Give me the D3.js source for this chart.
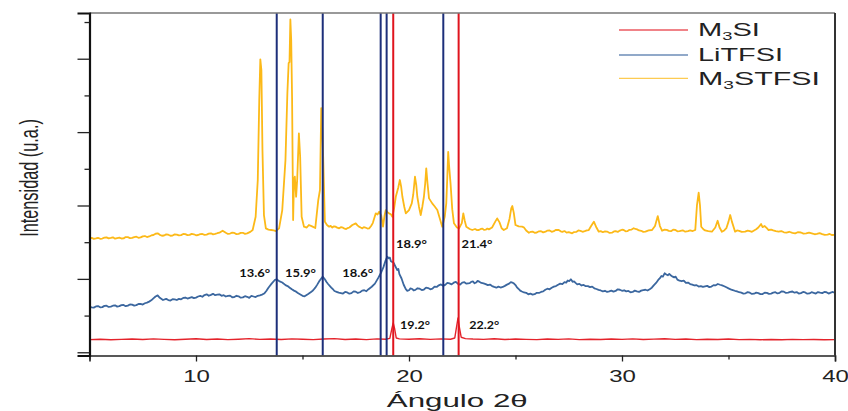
<!DOCTYPE html>
<html>
<head>
<meta charset="utf-8">
<script src="https://cdn.jsdelivr.net/npm/d3@7"></script>
<style>
  body { margin: 0; background: #fff; }
  svg { display: block; }
</style>
</head>
<body>
<div id="chart"></div>
<script>
// XRD patterns, [2theta, intensity a.u.]
var m3si = [[5.0,172],[5.5,178],[6.0,170],[6.5,176],[7.0,180],[7.5,174],[8.0,182],[8.5,176],[9.0,170],[9.5,178],
  [10.0,184],[10.5,175],[11.0,180],[11.5,172],[12.0,178],[12.5,186],[13.0,176],[13.5,181],[14.0,174],[14.5,183],
  [15.0,177],[15.5,172],[16.0,180],[16.5,186],[17.0,175],[17.5,180],[18.0,172],[18.5,182],[18.9,178],[19.1,190],
  [19.2,330],[19.26,399],[19.32,330],[19.4,195],[19.55,182],[20.0,178],[20.5,185],[21.0,176],[21.5,183],[21.95,178],
  [22.15,195],[22.24,360],[22.3,467],[22.36,350],[22.45,205],[22.65,186],[23.0,180],[23.5,176],[24.0,184],[24.5,174],
  [25.0,180],[25.5,176],[26.0,172],[26.5,180],[27.0,176],[27.5,182],[28.0,172],[28.5,178],[29.0,174],[29.5,180],
  [30.0,176],[30.5,182],[31.0,174],[31.5,179],[32.0,185],[32.5,176],[33.0,180],[33.5,172],[34.0,178],[34.5,174],
  [35.0,180],[35.5,172],[36.0,176],[36.5,170],[37.0,175],[37.5,171],[38.0,176],[38.5,172],[39.0,174],[39.5,170],[40.0,173]];

var litfsi = [[5.0,621],[5.1,612],[5.2,608],[5.3,624],[5.4,630],[5.5,612],[5.6,615],[5.7,632],[5.8,635],[5.9,618],[6.0,622],
  [6.1,634],[6.2,640],[6.3,622],[6.4,628],[6.5,642],[6.6,645],[6.7,628],[6.8,636],[6.9,652],[7.0,650],[7.1,636],[7.2,642],
  [7.3,658],[7.4,660],[7.5,650],[7.6,668],[7.7,676],[7.8,690],[7.9,708],[8.0,735],[8.1,760],[8.2,775],[8.3,742],[8.45,712],
  [8.6,728],[8.7,712],[8.8,705],[8.9,724],[9.0,722],[9.1,712],[9.2,728],[9.3,722],[9.4,740],[9.5,746],[9.6,732],[9.7,742],[9.8,752],
  [9.9,738],[10.0,745],[10.1,760],[10.2,768],[10.3,756],[10.4,780],[10.5,790],[10.6,770],[10.7,782],[10.8,796],[10.9,778],
  [11.0,784],[11.1,790],[11.2,770],[11.3,778],[11.4,760],[11.5,768],[11.6,772],[11.7,750],[11.8,752],[11.9,770],[12.0,762],
  [12.1,744],[12.2,748],[12.3,764],[12.4,756],[12.5,742],[12.6,768],[12.7,760],[12.8,752],[12.9,770],[13.0,776],[13.1,786],
  [13.2,800],[13.3,835],[13.4,880],[13.55,935],[13.7,985],[13.8,994],[13.9,970],[14.05,950],[14.12,935],
  [14.2,915],[14.3,902],[14.4,880],[14.5,858],[14.6,840],[14.7,826],[14.8,805],[14.9,788],[15.0,770],[15.1,762],[15.25,790],
  [15.4,820],[15.5,845],[15.6,880],[15.7,925],[15.8,975],
  [15.95,1030],[16.05,995],[16.12,960],[16.2,930],[16.35,880],[16.42,862],[16.5,835],[16.6,824],[16.7,812],[16.8,806],[16.9,800],
  [17.0,822],[17.1,815],[17.2,798],[17.3,806],[17.4,830],[17.5,826],[17.6,808],[17.7,818],[17.8,840],[17.9,845],[18.0,832],
  [18.1,860],[18.25,893],[18.4,935],[18.55,1010],[18.7,1090],[18.8,1160],[18.9,1250],[18.98,1302],
  [19.05,1280],[19.1,1290],[19.15,1240],[19.25,1225],[19.3,1210],[19.35,1175],[19.45,1120],[19.5,1135],[19.55,1065],
  [19.65,1005],[19.75,920],[19.85,860],[19.92,838],[20.0,845],
  [20.07,870],[20.15,862],[20.22,842],[20.3,850],[20.4,872],[20.5,866],[20.6,848],[20.7,855],[20.8,880],[20.9,875],[21.0,858],
  [21.1,866],[21.2,895],[21.3,890],[21.4,912],[21.5,925],[21.6,905],[21.7,918],[21.8,945],[21.9,938],[22.0,925],
  [22.1,948],[22.2,960],[22.3,932],[22.4,922],[22.5,950],[22.6,955],[22.7,935],[22.85,942],[22.92,960],[23.0,965],
  [23.08,940],[23.15,950],[23.22,972],[23.3,962],[23.4,945],[23.5,938],[23.6,928],[23.7,915],[23.8,922],
  [23.9,902],[24.0,890],[24.1,880],[24.2,895],[24.3,882],[24.4,890],[24.5,905],[24.6,922],[24.7,935],[24.78,955],[24.85,948],
  [24.92,940],[25.0,915],[25.08,880],[25.15,862],[25.22,840],[25.3,828],[25.4,815],[25.5,810],[25.6,790],
  [25.7,800],[25.8,785],[25.9,792],[26.0,810],[26.1,808],[26.2,822],[26.3,830],[26.4,852],[26.5,866],[26.6,858],[26.7,880],
  [26.8,895],[26.9,902],[27.0,920],[27.1,935],[27.2,928],[27.3,955],[27.38,948],[27.45,978],[27.52,970],
  [27.6,994],[27.68,960],[27.75,965],[27.82,945],[27.9,925],[28.0,932],[28.1,910],[28.2,918],[28.3,900],[28.4,902],[28.5,888],
  [28.6,895],[28.7,872],[28.8,862],[28.9,850],[29.0,842],[29.1,830],[29.2,838],[29.3,822],[29.4,830],
  [29.5,840],[29.6,826],[29.7,836],[29.8,858],[29.9,852],[30.0,838],[30.1,845],[30.2,830],[30.3,836],[30.4,818],[30.5,822],
  [30.6,840],[30.7,830],[30.8,822],[30.9,840],[31.0,848],[31.1,852],[31.2,842],[31.3,860],[31.4,880],
  [31.5,915],[31.6,945],[31.7,985],[31.78,1010],[31.85,1040],[31.92,1030],[32.0,1076],[32.08,1060],[32.15,1050],[32.22,1068],
  [32.3,1045],[32.38,1030],[32.45,1020],[32.52,1030],[32.6,990],[32.7,975],[32.8,968],[32.9,975],[33.0,945],
  [33.1,950],[33.2,930],[33.3,922],[33.4,910],[33.5,915],[33.6,895],[33.7,902],[33.8,890],[33.9,898],[34.0,905],[34.1,888],
  [34.2,895],[34.3,915],[34.4,912],[34.5,930],[34.6,920],[34.7,912],[34.8,900],[34.9,885],[35.0,870],
  [35.1,858],[35.2,848],[35.3,838],[35.4,830],[35.5,818],[35.6,812],[35.7,800],[35.8,804],[35.9,820],[36.0,812],[36.1,795],
  [36.2,798],[36.3,812],[36.4,806],[36.5,792],[36.6,794],[36.7,812],[36.8,810],[36.9,796],[37.0,800],
  [37.1,812],[37.2,818],[37.3,802],[37.4,810],[37.5,830],[37.6,825],[37.7,808],[37.8,812],[37.9,822],[38.0,828],[38.1,812],
  [38.2,820],[38.3,800],[38.4,806],[38.5,822],[38.6,815],[38.7,798],[38.8,802],[38.9,818],[39.0,810],
  [39.1,800],[39.2,820],[39.3,812],[39.4,806],[39.5,822],[39.6,818],[39.7,800],[39.8,812],[39.9,822],[40.0,808]];

var m3stfsi = [[5.0,1553],[5.1,1560],[5.2,1545],[5.3,1552],[5.4,1560],[5.5,1546],[5.6,1550],[5.7,1562],[5.8,1566],[5.9,1552],
  [6.0,1558],[6.1,1566],[6.2,1548],[6.3,1556],[6.4,1562],[6.5,1550],[6.6,1552],[6.7,1570],[6.8,1568],[6.9,1556],
  [7.0,1560],[7.1,1570],[7.2,1575],[7.3,1560],[7.4,1566],[7.5,1580],[7.6,1584],[7.7,1570],[7.8,1578],[7.9,1592],[8.0,1598],
  [8.1,1615],[8.2,1621],[8.3,1600],[8.4,1588],[8.5,1591],
  [8.6,1606],[8.7,1602],[8.8,1588],[8.9,1590],[9.0,1606],[9.1,1604],[9.2,1592],[9.3,1596],[9.4,1612],[9.5,1610],[9.6,1596],
  [9.7,1600],[9.8,1614],[9.9,1608],[10.0,1594],[10.1,1598],[10.2,1610],[10.3,1612],[10.4,1600],[10.5,1604],[10.6,1616],
  [10.7,1621],[10.8,1606],[10.9,1612],[11.0,1622],[11.1,1630],[11.25,1656],[11.4,1628],[11.5,1612],[11.6,1618],[11.7,1630],
  [11.8,1626],[11.9,1610],[12.0,1614],[12.1,1626],[12.2,1628],[12.3,1614],[12.4,1620],
  [12.55,1640],[12.66,1666],[12.8,1847],[12.9,2347],[12.97,3436],[13.02,3991],[13.07,3845],[13.12,2755],[13.19,1870],[13.28,1689],
  [13.4,1672],[13.53,1666],[13.65,1660],[13.75,1652],[13.9,1689],[14.05,1938],[14.2,2619],[14.29,3532],[14.35,3940],[14.39,3954],
  [14.43,4535],[14.47,4254],[14.51,3481],[14.56,1802],[14.6,2347],[14.64,2392],[14.7,2119],[14.75,2347],[14.83,2983],[14.89,2664],
  [14.96,1847],[15.07,1711],[15.2,1700],[15.3,1734],[15.45,1715],[15.6,1693],[15.74,2074],[15.82,2211],[15.88,3327],[15.93,3028],
  [15.97,2664],[16.05,1779],[16.15,1735],[16.25,1711],[16.32,1722],[16.4,1700],[16.48,1716],[16.55,1712],[16.63,1698],
  [16.72,1689],[16.8,1705],[16.9,1698],[16.98,1684],[17.05,1679],[17.12,1692],[17.2,1700],
  [17.34,1734],[17.5,1757],[17.58,1730],[17.65,1712],[17.73,1700],[17.81,1689],[17.88,1705],[17.95,1700],[18.05,1686],
  [18.13,1689],[18.22,1720],[18.3,1760],[18.44,1893],[18.52,1878],[18.6,1915],[18.7,1860],
  [18.78,1711],[18.85,1860],[18.91,1938],[19.0,1905],[19.06,1893],[19.15,1880],[19.22,1847],[19.3,1960],[19.38,2119],[19.5,2250],
  [19.57,2347],[19.63,2260],[19.69,2119],[19.78,1980],[19.85,1893],[20.0,1938],[20.13,2029],[20.2,2150],[20.28,2392],[20.34,2280],
  [20.39,2119],[20.47,1980],[20.55,1870],[20.63,1990],[20.7,2119],[20.76,2300],[20.81,2506],[20.87,2300],[20.94,2097],[21.09,2029],
  [21.2,1990],[21.33,1938],[21.45,1820],[21.56,1711],[21.68,1850],[21.75,2029],[21.8,2400],[21.84,2732],[21.88,2550],[21.95,2302],
  [22.03,1950],[22.11,1757],[22.25,1700],[22.35,1689],[22.48,1760],[22.55,1893],[22.62,1790],[22.69,1711],[22.85,1680],[22.97,1666],
  [23.1,1680],[23.2,1664],[23.28,1666],[23.37,1680],[23.45,1685],[23.52,1668],[23.6,1670],[23.68,1686],[23.75,1675],
  [23.9,1700],[24.05,1780],[24.14,1825],[24.25,1770],[24.35,1690],
  [24.45,1666],[24.6,1690],[24.72,1820],[24.8,1960],[24.85,1993],[24.92,1900],[25.0,1734],[25.15,1715],[25.31,1711],[25.39,1703],
  [25.5,1660],[25.63,1629],[25.72,1642],[25.8,1645],[25.9,1628],[26.0,1632],[26.1,1648],[26.2,1650],[26.3,1634],[26.41,1643],
  [26.5,1658],[26.6,1660],[26.7,1642],[26.8,1650],[26.9,1668],[27.03,1666],[27.12,1648],[27.2,1640],[27.3,1652],
  [27.4,1630],[27.5,1636],[27.66,1621],[27.75,1638],[27.85,1640],[27.95,1660],[28.05,1655],[28.15,1642],[28.25,1650],
  [28.35,1660],[28.44,1666],[28.55,1720],[28.68,1779],[28.8,1700],[28.91,1643],
  [29.0,1650],[29.1,1636],[29.2,1648],[29.3,1645],[29.42,1626],[29.53,1629],[29.62,1646],[29.7,1650],[29.8,1640],[29.9,1658],
  [30.0,1670],[30.08,1666],[30.17,1648],[30.25,1650],[30.35,1668],[30.45,1672],[30.55,1690],[30.63,1680],[30.71,1675],
  [30.8,1660],[30.9,1655],[31.0,1640],
  [31.1,1643],[31.25,1660],[31.41,1666],[31.55,1720],[31.68,1856],[31.78,1720],[31.88,1656],[32.0,1672],[32.1,1668],[32.2,1654],
  [32.3,1650],[32.4,1670],[32.51,1666],[32.6,1648],
  [32.7,1652],[32.85,1662],[32.97,1643],[33.1,1650],[33.2,1660],[33.32,1652],[33.44,1666],[33.52,2006],[33.6,2174],[33.66,2006],
  [33.72,1711],[33.82,1676],[33.9,1660],[34.05,1650],
  [34.22,1643],[34.38,1700],[34.49,1792],[34.58,1700],[34.69,1643],[34.8,1660],[34.9,1690],[35.0,1780],[35.08,1870],[35.16,1780],
  [35.31,1643],[35.4,1660],
  [35.5,1655],[35.62,1640],[35.78,1643],[35.9,1658],[36.0,1650],[36.1,1642],[36.2,1660],[36.3,1676],[36.4,1700],[36.53,1747],
  [36.6,1705],[36.7,1720],[36.8,1690],[36.88,1666],[37.0,1672],[37.1,1660],
  [37.22,1650],[37.35,1643],[37.48,1652],[37.6,1635],[37.72,1630],[37.85,1642],[38.0,1628],[38.13,1621],[38.25,1636],[38.4,1632],
  [38.52,1616],[38.65,1620],[38.78,1630],[38.91,1621],[39.05,1608],[39.15,1612],[39.28,1624],[39.4,1610],[39.52,1600],[39.65,1602],
  [39.75,1612],[39.85,1598],[40.0,1600]];

// reference peak positions (vertical lines) and their labels
var blueLines = [13.79, 15.95, 18.67, 18.95, 21.61];
var blueLabels = ["13.6°", "15.9°", "18.6°", "18.9°", "21.4°"];
var redLines = [19.26, 22.33];
var redLabels = ["19.2°", "22.2°"];

var xMajor = [10, 20, 30, 40];
var xMinor = [5, 15, 25, 35];
var yMajor = [0, 1000, 2000, 3000, 4000];
var yMinor = [500, 1500, 2500, 3500, 4500];

var names = ["M3SI", "LiTFSI", "M3STFSI"];
var colors = ["#e4232b", "#3b679f", "#fcb918"];

var margin = {top: 13, right: 13, bottom: 55.5, left: 89.5},
    width = 848 - margin.left - margin.right,
    height = 411 - margin.top - margin.bottom;

var x = d3.scaleLinear().domain([5, 40]).range([0, width]);
var y = d3.scaleLinear().domain([-44, 4623]).range([height, 0]);

var svg = d3.select("#chart").append("svg")
    .attr("width", 848)
    .attr("height", 411)
  .append("g")
    .attr("transform", "translate(" + margin.left + "," + margin.top + ")");

svg.append("clipPath").attr("id", "clip")
  .append("rect").attr("width", width).attr("height", height);

// stretch a text horizontally to a given width around its anchor
function stretch(node, w) {
  var bb = node.getBBox();
  var anchor = d3.select(node).attr("text-anchor");
  var ax = anchor == "middle" ? bb.x + bb.width / 2 : bb.x;
  var s = w / bb.width;
  d3.select(node).attr("transform",
    "translate(" + ax + ",0) scale(" + s + ",1) translate(" + (-ax) + ",0)");
}

var line = d3.line()
    .x(function(d) { return x(d[0]); })
    .y(function(d) { return y(d[1]); });

var plot = svg.append("g").attr("clip-path", "url(#clip)");

[m3si, litfsi, m3stfsi].forEach(function(s, i) {
  plot.append("path")
      .datum(s)
      .attr("fill", "none")
      .attr("stroke", colors[i])
      .attr("stroke-width", i == 0 ? 1.4 : 1.8)
      .attr("stroke-linejoin", "round")
      .attr("d", line);
});

plot.selectAll(".bline")
    .data(blueLines)
  .enter().append("line")
    .attr("x1", function(d) { return x(d); })
    .attr("x2", function(d) { return x(d); })
    .attr("y1", 0).attr("y2", height)
    .attr("stroke", "#1d2f7a")
    .attr("stroke-width", 2);

plot.selectAll(".rline")
    .data(redLines)
  .enter().append("line")
    .attr("x1", function(d) { return x(d); })
    .attr("x2", function(d) { return x(d); })
    .attr("y1", 0).attr("y2", height)
    .attr("stroke", "#e0141e")
    .attr("stroke-width", 2);

// peak labels
var labelFont = "Lato, 'Open Sans', sans-serif";
var bluePos = [[-37.5, 263.7], [-37.7, 263.7], [-38.4, 263.7], [9.3, 235.3], [18.1, 235.3]];
var redPos = [[6.7, 316.3], [10.6, 316.3]];

blueLabels.forEach(function(t, i) {
  var el = svg.append("text")
      .attr("x", x(blueLines[i]) + bluePos[i][0])
      .attr("y", bluePos[i][1])
      .attr("text-anchor", "start")
      .style("font-family", labelFont)
      .style("font-weight", "bold")
      .style("font-size", "10.5px")
      .attr("fill", "#111")
      .text(t);
  stretch(el.node(), 31);
});
redLabels.forEach(function(t, i) {
  var el = svg.append("text")
      .attr("x", x(redLines[i]) + redPos[i][0])
      .attr("y", redPos[i][1])
      .attr("text-anchor", "start")
      .style("font-family", labelFont)
      .style("font-weight", "bold")
      .style("font-size", "10.5px")
      .attr("fill", "#111")
      .text(t);
  stretch(el.node(), 30);
});

// frame
svg.append("line").attr("x1", 0).attr("x2", width).attr("y1", 0).attr("y2", 0)
    .attr("stroke", "#777").attr("stroke-width", 1.5);
svg.append("line").attr("x1", width).attr("x2", width).attr("y1", 0).attr("y2", height)
    .attr("stroke", "#333").attr("stroke-width", 2);

// axes
var yAxisMajor = d3.axisLeft(y).tickValues(yMajor).tickSize(12).tickFormat("");
var yAxisMinor = d3.axisLeft(y).tickValues(yMinor).tickSize(5).tickFormat("");
var xAxisMajor = d3.axisBottom(x).tickValues(xMajor).tickSize(6).tickPadding(9);
var xAxisMinor = d3.axisBottom(x).tickValues(xMinor).tickSize(4).tickFormat("");

var gx = svg.append("g")
    .attr("transform", "translate(0," + height + ")")
    .call(xAxisMajor);
svg.append("g")
    .attr("transform", "translate(0," + height + ")")
    .call(xAxisMinor)
    .select(".domain").remove();
gx.select(".domain").attr("stroke", "#222").attr("stroke-width", 1.6);
gx.selectAll(".tick text")
    .style("font-family", "'Liberation Sans', Arial, sans-serif")
    .style("font-size", "16px")
    .attr("fill", "#222")
    .attr("transform", "scale(1.5,1)");

var gy = svg.append("g").call(yAxisMajor);
svg.append("g").call(yAxisMinor).select(".domain").remove();
gy.select(".domain").attr("stroke", "#111").attr("stroke-width", 2.2);
svg.selectAll(".tick line").attr("stroke", "#222").attr("stroke-width", 1.3);

// axis titles
svg.append("text")
    .attr("transform", "translate(" + (37.5 - margin.left) + "," + (178 - margin.top) + ") scale(1.6,1) rotate(-90)")
    .attr("text-anchor", "middle")
    .style("font-family", "'Liberation Sans', Arial, sans-serif")
    .style("font-size", "16.3px")
    .attr("fill", "#222")
    .text("Intensidad (u.a.)");

var xt = svg.append("text")
    .attr("x", width / 2 - 5)
    .attr("y", height + 52)
    .attr("text-anchor", "middle")
    .style("font-family", "'Liberation Sans', Arial, sans-serif")
    .style("font-size", "18px")
    .attr("fill", "#222")
    .text("Ángulo 2θ");
stretch(xt.node(), 141);

// legend
var legWidths = [62, 85, 122];
var legend = svg.append("g");
names.forEach(function(n, i) {
  var ly = [30, 55, 78.3][i] - margin.top;
  legend.append("line")
      .attr("x1", 619 - margin.left).attr("x2", 688 - margin.left)
      .attr("y1", ly).attr("y2", ly)
      .attr("stroke", colors[i])
      .attr("stroke-opacity", 0.75)
      .attr("stroke-width", 1.3);
  var t = legend.append("text")
      .attr("x", 698 - margin.left)
      .attr("y", ly + 6.5)
      .attr("text-anchor", "start")
      .style("font-family", "'Liberation Sans', Arial, sans-serif")
      .style("font-size", "17.5px")
      .attr("fill", "#222");
  if (n.indexOf("M3") == 0) {
    t.append("tspan").text("M");
    t.append("tspan").attr("dy", 4).style("font-size", "11px").text("3");
    t.append("tspan").attr("dy", -4).text(n.slice(2));
  } else {
    t.text(n);
  }
  stretch(t.node(), legWidths[i]);
});
</script>
</body>
</html>
